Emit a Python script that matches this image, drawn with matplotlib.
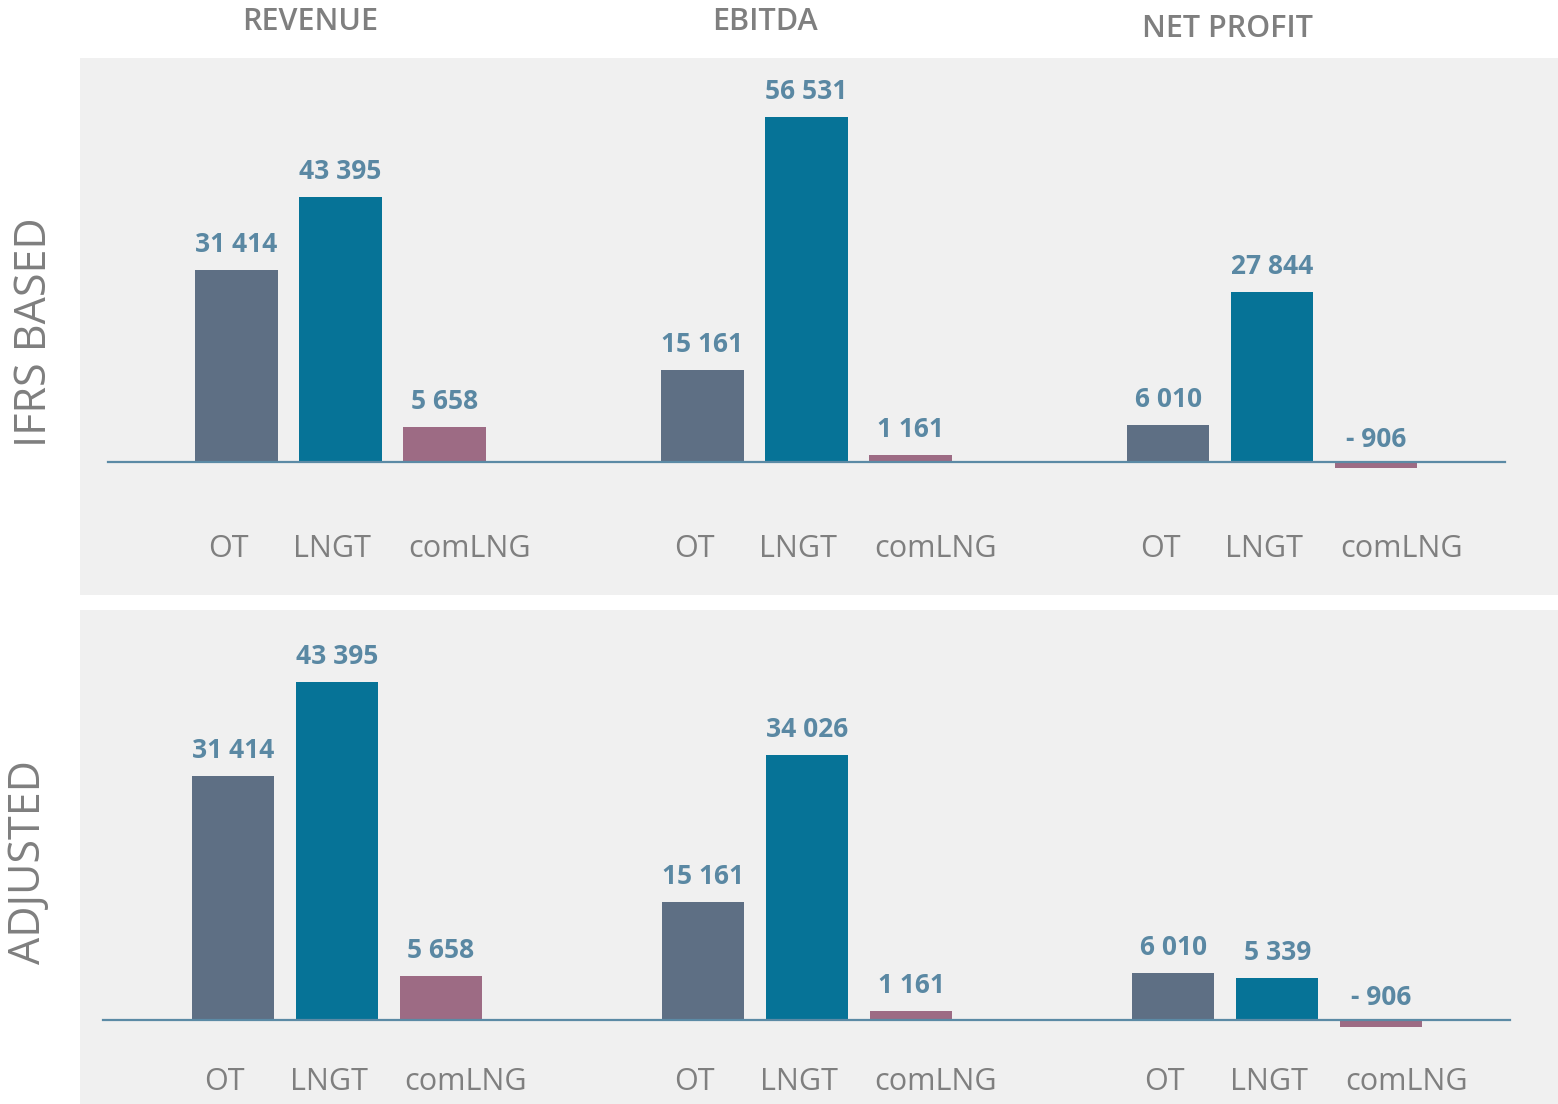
import matplotlib.pyplot as plt

plt.rcParams['font.family'] = ['Open Sans', 'DejaVu Sans']

# data
metrics = ["REVENUE", "EBITDA", "NET PROFIT"]
companies = ["OT", "LNGT", "comLNG"]
rows = ["IFRS BASED", "ADJUSTED"]
ifrs_values = [[31414, 43395, 5658], [15161, 56531, 1161], [6010, 27844, -906]]
adjusted_values = [[31414, 43395, 5658], [15161, 34026, 1161], [6010, 5339, -906]]

bar_colors = ["#5e6f84", "#067397", "#9d6b84"]
label_color = "#5a88a3"
gray = "#7f7f7f"

W, H = 1558, 1104
fig = plt.figure(figsize=(W / 100, H / 100), dpi=100)


def px_axes(x0, y0, x1, y1):
    # pixel box (top-left origin) -> figure axes
    return fig.add_axes([x0 / W, 1 - y1 / H, (x1 - x0) / W, (y1 - y0) / H])


# per row: panel top/bottom, first bar centre, baseline, px per unit, line extent, tick y, row label pos
layouts = [
    dict(y0=58, y1=595, first=236.5, base=462, scale=0.0061, lx=(108, 1505), tick_y=549,
         gap=4.48, values=ifrs_values, label_xy=(35, 332)),
    dict(y0=610, y1=1104, first=233, base=1020, scale=0.00778, lx=(103, 1510), tick_y=1082,
         gap=4.52, values=adjusted_values, label_xy=(29, 862)),
]
step = 104  # px between bar centres
tick_offsets = [-0.08, -0.08, 0.24]

for row, lay in zip(rows, layouts):
    ax = px_axes(80, lay["y0"], W, lay["y1"])
    ax.set_facecolor("#f0f0f0")
    to_x = lambda p: (p - lay["first"]) / step
    ax.set_xlim(to_x(80), to_x(W))
    ax.set_ylim(-(lay["y1"] - lay["base"]) / lay["scale"], (lay["base"] - lay["y0"]) / lay["scale"])
    ax.axis("off")
    ax.add_patch(plt.Rectangle((0, 0), 1, 1, transform=ax.transAxes, color="#f0f0f0", zorder=0))

    for g, vals in enumerate(lay["values"]):
        xs = [g * lay["gap"] + i for i in range(len(companies))]
        ax.bar(xs, vals, width=0.79, color=bar_colors, zorder=2)
        for x, v in zip(xs, vals):
            txt = f"{abs(v):,}".replace(",", " ")
            if v < 0:
                txt = "- " + txt
            lift = (9 if v < 0 else 12) / lay["scale"]
            ax.text(x, max(v, 0) + lift, txt, ha="center", va="bottom", fontsize=19,
                    fontweight="bold", color=label_color, zorder=3)
        tick_data_y = (lay["base"] - lay["tick_y"]) / lay["scale"]
        for x, name, off in zip(xs, companies, tick_offsets):
            ax.text(x + off, tick_data_y, name, ha="center", va="center", fontsize=22, color=gray)

    ax.plot([to_x(lay["lx"][0]), to_x(lay["lx"][1])], [0, 0], color="#5b8aa5", lw=1.6, zorder=4)

    lx, ly = lay["label_xy"]
    fig.text(lx / W, 1 - ly / H, row, rotation=90, ha="center", va="center",
             fontsize=31, color=gray)

header_pos = [(310, 22), (765, 22), (1227, 29)]
for name, (hx, hy) in zip(metrics, header_pos):
    fig.text(hx / W, 1 - hy / H, name, ha="center", va="center", fontsize=22,
             fontweight="semibold", color=gray)

fig.savefig("out.png", dpi=100, facecolor="white")
